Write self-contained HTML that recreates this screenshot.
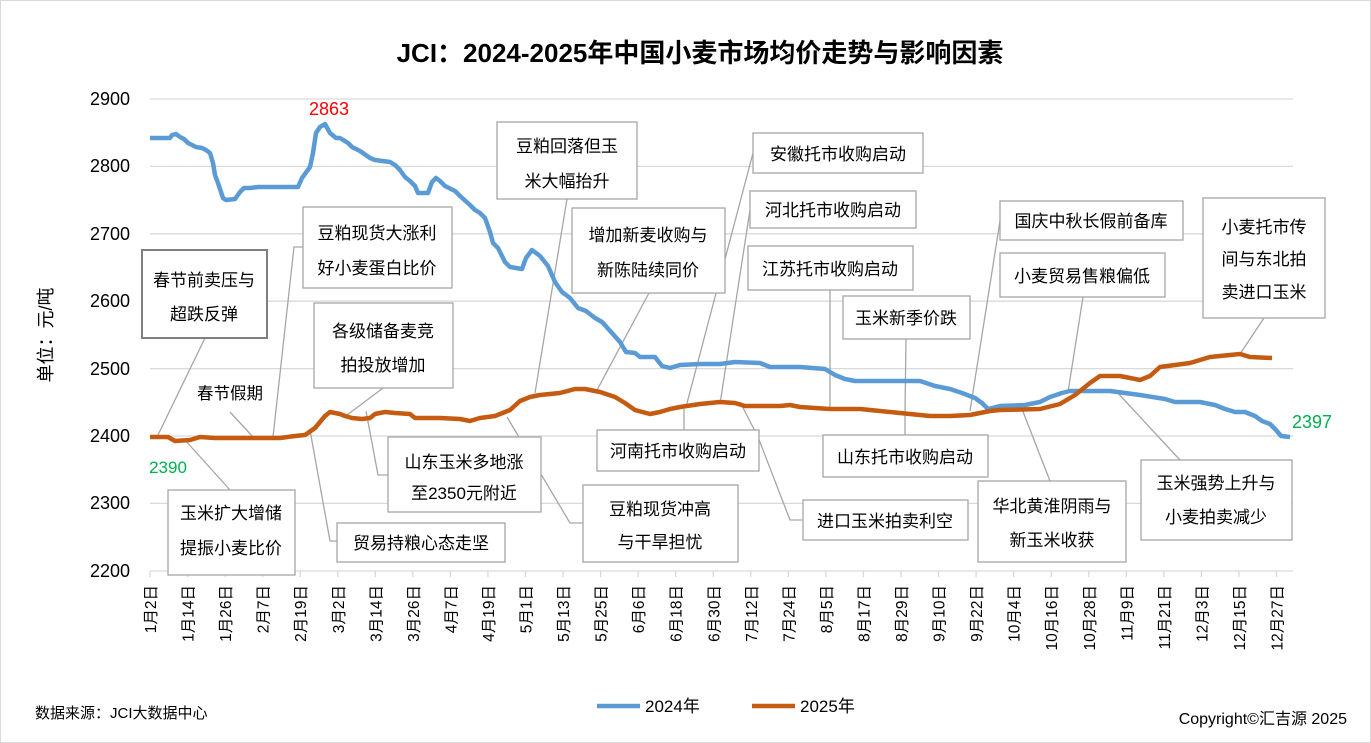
<!DOCTYPE html>
<html><head><meta charset="utf-8"><style>
html,body{margin:0;padding:0;background:#fff}
svg{display:block;font-family:"Liberation Sans","Noto Sans CJK SC",sans-serif}
</style></head><body>
<svg width="1371" height="743" viewBox="0 0 1371 743" xmlns="http://www.w3.org/2000/svg">
<rect x="0.5" y="0.5" width="1370" height="742" fill="#fff" stroke="#d9d9d9"/>
<text x="700" y="62" text-anchor="middle" font-size="26" font-weight="bold" fill="#000">JCI：2024-2025年中国小麦市场均价走势与影响因素</text>
<g stroke="#d9d9d9" stroke-width="1.3">
<line x1="150" y1="99" x2="1293" y2="99"/><line x1="150" y1="166.4" x2="1293" y2="166.4"/>
<line x1="150" y1="233.8" x2="1293" y2="233.8"/><line x1="150" y1="301.2" x2="1293" y2="301.2"/>
<line x1="150" y1="368.6" x2="1293" y2="368.6"/><line x1="150" y1="436" x2="1293" y2="436"/>
<line x1="150" y1="503.4" x2="1293" y2="503.4"/><line x1="150" y1="571" x2="1293" y2="571"/>
<line x1="150" y1="571" x2="150" y2="577"/><line x1="187.55" y1="571" x2="187.55" y2="577"/><line x1="225.1" y1="571" x2="225.1" y2="577"/><line x1="262.65" y1="571" x2="262.65" y2="577"/><line x1="300.2" y1="571" x2="300.2" y2="577"/><line x1="337.75" y1="571" x2="337.75" y2="577"/><line x1="375.3" y1="571" x2="375.3" y2="577"/><line x1="412.85" y1="571" x2="412.85" y2="577"/><line x1="450.4" y1="571" x2="450.4" y2="577"/><line x1="487.95" y1="571" x2="487.95" y2="577"/><line x1="525.5" y1="571" x2="525.5" y2="577"/><line x1="563.05" y1="571" x2="563.05" y2="577"/><line x1="600.6" y1="571" x2="600.6" y2="577"/><line x1="638.15" y1="571" x2="638.15" y2="577"/><line x1="675.7" y1="571" x2="675.7" y2="577"/><line x1="713.25" y1="571" x2="713.25" y2="577"/><line x1="750.8" y1="571" x2="750.8" y2="577"/><line x1="788.35" y1="571" x2="788.35" y2="577"/><line x1="825.9" y1="571" x2="825.9" y2="577"/><line x1="863.45" y1="571" x2="863.45" y2="577"/><line x1="901" y1="571" x2="901" y2="577"/><line x1="938.55" y1="571" x2="938.55" y2="577"/><line x1="976.1" y1="571" x2="976.1" y2="577"/><line x1="1013.65" y1="571" x2="1013.65" y2="577"/><line x1="1051.2" y1="571" x2="1051.2" y2="577"/><line x1="1088.75" y1="571" x2="1088.75" y2="577"/><line x1="1126.3" y1="571" x2="1126.3" y2="577"/><line x1="1163.85" y1="571" x2="1163.85" y2="577"/><line x1="1201.4" y1="571" x2="1201.4" y2="577"/><line x1="1238.95" y1="571" x2="1238.95" y2="577"/><line x1="1276.5" y1="571" x2="1276.5" y2="577"/>
</g>
<g font-size="18" text-anchor="end" fill="#000">
<text x="130" y="105">2900</text><text x="130" y="172">2800</text><text x="130" y="240">2700</text>
<text x="130" y="307">2600</text><text x="130" y="375">2500</text><text x="130" y="442">2400</text>
<text x="130" y="509">2300</text><text x="130" y="577">2200</text>
</g>
<text transform="translate(52,335) rotate(-90)" text-anchor="middle" font-size="18">单位：元/吨</text>
<g font-size="15.5" fill="#000" text-anchor="end">
<text transform="translate(156,585) rotate(-90)">1月2日</text>
<text transform="translate(193.55,585) rotate(-90)">1月14日</text>
<text transform="translate(231.1,585) rotate(-90)">1月26日</text>
<text transform="translate(268.65,585) rotate(-90)">2月7日</text>
<text transform="translate(306.2,585) rotate(-90)">2月19日</text>
<text transform="translate(343.75,585) rotate(-90)">3月2日</text>
<text transform="translate(381.3,585) rotate(-90)">3月14日</text>
<text transform="translate(418.85,585) rotate(-90)">3月26日</text>
<text transform="translate(456.4,585) rotate(-90)">4月7日</text>
<text transform="translate(493.95,585) rotate(-90)">4月19日</text>
<text transform="translate(531.5,585) rotate(-90)">5月1日</text>
<text transform="translate(569.05,585) rotate(-90)">5月13日</text>
<text transform="translate(606.6,585) rotate(-90)">5月25日</text>
<text transform="translate(644.15,585) rotate(-90)">6月6日</text>
<text transform="translate(681.7,585) rotate(-90)">6月18日</text>
<text transform="translate(719.25,585) rotate(-90)">6月30日</text>
<text transform="translate(756.8,585) rotate(-90)">7月12日</text>
<text transform="translate(794.35,585) rotate(-90)">7月24日</text>
<text transform="translate(831.9,585) rotate(-90)">8月5日</text>
<text transform="translate(869.45,585) rotate(-90)">8月17日</text>
<text transform="translate(907,585) rotate(-90)">8月29日</text>
<text transform="translate(944.55,585) rotate(-90)">9月10日</text>
<text transform="translate(982.1,585) rotate(-90)">9月22日</text>
<text transform="translate(1019.65,585) rotate(-90)">10月4日</text>
<text transform="translate(1057.2,585) rotate(-90)">10月16日</text>
<text transform="translate(1094.75,585) rotate(-90)">10月28日</text>
<text transform="translate(1132.3,585) rotate(-90)">11月9日</text>
<text transform="translate(1169.85,585) rotate(-90)">11月21日</text>
<text transform="translate(1207.4,585) rotate(-90)">12月3日</text>
<text transform="translate(1244.95,585) rotate(-90)">12月15日</text>
<text transform="translate(1282.5,585) rotate(-90)">12月27日</text>
</g>
<g stroke="#a6a6a6" stroke-width="1.3" fill="none">
<polyline points="205,338 157,437"/><polyline points="230,412 253,437"/>
<polyline points="303,247 294,247 273,437"/><polyline points="383,388 347,415"/>
<polyline points="567,199 535,393"/><polyline points="649,293 596,392"/>
<polyline points="753,153 686,407"/><polyline points="750,210 720,404"/>
<polyline points="830,290 830,409"/><polyline points="906,339 905,414"/>
<polyline points="1000,221 970,411"/><polyline points="1083,297 1068,392"/>
<polyline points="1264,318 1240,354"/><polyline points="388,475 378,475 366,411"/>
<polyline points="684,430 684,409"/><polyline points="905,435 905,415"/>
<polyline points="583,523 570,523 507,417"/><polyline points="803,520 790,520 758,437 740,402"/>
<polyline points="1050,481 1022,409"/><polyline points="1180,460 1115,390"/>
<polyline points="230,490 185,440"/><polyline points="337,541 330,541 310,430"/>
</g>
<polyline fill="none" stroke="#5b9bd5" stroke-width="4.5" stroke-linejoin="round" points="150,138 170,138 172,135 176,134 180,137 184,139 188,143 196,147 202,148 206,150 210,153 213,163 215,175 218,183 223,198 226,200 235,199 240,192 244,188 250,188 258,187 298,187 302,178 310,167 313,153 316,133 320,127 325,124 330,133 336,138 340,138 348,143 352,147 360,151 370,158 375,160 390,162 395,165 400,170 405,177 410,181 415,186 418,193 428,193 432,182 436,178 440,181 445,186 455,191 460,196 470,205 475,210 480,213 485,218 490,232 493,243 498,248 505,262 510,267 522,269 526,258 532,250 540,256 548,266 555,282 562,292 570,298 578,308 586,311 595,318 602,322 612,333 620,342 626,352 635,353 640,357 655,357 662,366 670,368 680,365 700,364 720,364 735,362 760,363 770,367 800,367 825,369 835,375 845,379 855,381 880,381 920,381 935,386 950,389 962,393 975,398 982,403 988,409 1000,406 1025,405 1040,402 1050,397 1062,393 1070,391 1110,391 1140,395 1165,399 1175,402 1200,402 1215,405 1225,409 1235,412 1245,412 1255,416 1262,421 1270,424 1276,430 1281,436 1290,437"/>
<polyline fill="none" stroke="#c55a11" stroke-width="4.5" stroke-linejoin="round" points="150,437 168,437 175,441 190,440 200,437 215,438 250,438 280,438 295,436 305,435 315,428 325,416 330,412 340,414 345,416 352,418 362,419 370,418 375,414 385,412 395,413 410,414 415,418 440,418 460,419 470,421 480,418 495,416 500,414 510,410 520,401 530,397 540,395 550,394 560,393 575,389 585,389 595,391 600,392 615,397 625,403 635,410 650,414 660,412 670,409 680,407 700,404 720,402 735,403 745,406 780,406 790,405 800,407 830,409 860,409 880,411 900,413 930,416 950,416 970,415 990,411 1000,410 1040,409 1060,404 1075,395 1090,383 1100,376 1120,376 1140,380 1150,376 1160,367 1175,365 1190,363 1210,357 1230,355 1240,354 1250,357 1272,358"/>
<text x="329" y="115" text-anchor="middle" font-size="18" fill="#ff0000">2863</text>
<text x="168" y="473" text-anchor="middle" font-size="17" fill="#00b050">2390</text>
<text x="1312" y="428" text-anchor="middle" font-size="18" fill="#00b050">2397</text>
<text x="230" y="399" text-anchor="middle" font-size="16.5">春节假期</text>
<g fill="#fff" stroke="#a6a6a6" stroke-width="1.3">
<rect x="142" y="250" width="125" height="88" stroke="#7f7f7f" stroke-width="2"/>
<rect x="303" y="207" width="149" height="81"/>
<rect x="314" y="303" width="139" height="85"/>
<rect x="497" y="122" width="140" height="77"/>
<rect x="572" y="208" width="153" height="85"/>
<rect x="753" y="133" width="170" height="40"/>
<rect x="750" y="191" width="166" height="37"/>
<rect x="748" y="246" width="165" height="44"/>
<rect x="843" y="296" width="127" height="43"/>
<rect x="1000" y="201" width="183" height="39"/>
<rect x="1000" y="253" width="165" height="44"/>
<rect x="1203" y="198" width="122" height="120"/>
<rect x="388" y="437" width="153" height="75"/>
<rect x="597" y="430" width="162" height="41"/>
<rect x="823" y="435" width="165" height="42"/>
<rect x="583" y="485" width="155" height="77"/>
<rect x="803" y="500" width="165" height="40"/>
<rect x="978" y="481" width="148" height="81"/>
<rect x="1141" y="460" width="151" height="80"/>
<rect x="168" y="490" width="127" height="85"/>
<rect x="337" y="523" width="168" height="39"/>
</g>
<g font-size="17" text-anchor="middle" fill="#000">
<text x="204" y="286">春节前卖压与</text><text x="204" y="320">超跌反弹</text>
<text x="377" y="239">豆粕现货大涨利</text><text x="377" y="274">好小麦蛋白比价</text>
<text x="383" y="337">各级储备麦竞</text><text x="383" y="371">拍投放增加</text>
<text x="567" y="152">豆粕回落但玉</text><text x="567" y="187">米大幅抬升</text>
<text x="648" y="241">增加新麦收购与</text><text x="648" y="276">新陈陆续同价</text>
<text x="838" y="160">安徽托市收购启动</text>
<text x="833" y="216">河北托市收购启动</text>
<text x="830" y="275">江苏托市收购启动</text>
<text x="906" y="324">玉米新季价跌</text>
<text x="1091" y="227">国庆中秋长假前备库</text>
<text x="1082" y="282">小麦贸易售粮偏低</text>
<text x="1264" y="233">小麦托市传</text><text x="1264" y="265">间与东北拍</text><text x="1264" y="298">卖进口玉米</text>
<text x="464" y="468">山东玉米多地涨</text><text x="464" y="499">至2350元附近</text>
<text x="678" y="457">河南托市收购启动</text>
<text x="905" y="463">山东托市收购启动</text>
<text x="660" y="515">豆粕现货冲高</text><text x="660" y="548">与干旱担忧</text>
<text x="885" y="527">进口玉米拍卖利空</text>
<text x="1052" y="512">华北黄淮阴雨与</text><text x="1052" y="546">新玉米收获</text>
<text x="1216" y="489">玉米强势上升与</text><text x="1216" y="523">小麦拍卖减少</text>
<text x="231" y="519">玉米扩大增储</text><text x="231" y="554">提振小麦比价</text>
<text x="421" y="549">贸易持粮心态走坚</text>
</g>
<line x1="597" y1="706" x2="640" y2="706" stroke="#5b9bd5" stroke-width="4.5"/>
<text x="645" y="712" font-size="17">2024年</text>
<line x1="752" y1="706" x2="795" y2="706" stroke="#c55a11" stroke-width="4.5"/>
<text x="800" y="712" font-size="17">2025年</text>
<text x="35" y="718" font-size="15">数据来源：JCI大数据中心</text>
<text x="1347" y="724" font-size="16" text-anchor="end">Copyright©汇吉源 2025</text>
</svg>
</body></html>
